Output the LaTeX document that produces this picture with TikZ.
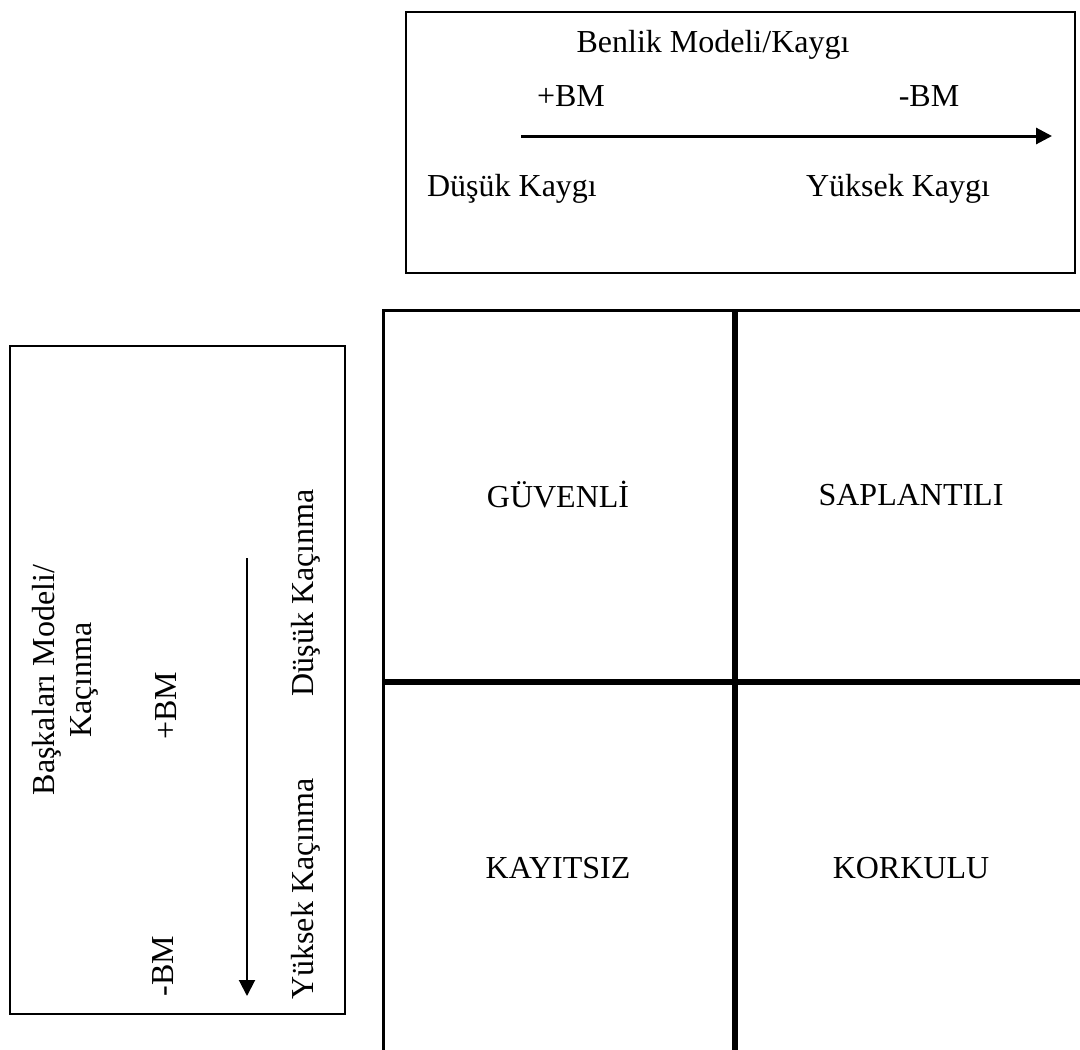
\documentclass[tikz,border=0pt]{standalone}
\usepackage{fontspec}
\setmainfont{Liberation Serif}
\usepackage{xcolor}
\usepackage{tikz}
\usetikzlibrary{arrows.meta,positioning}
\definecolor{ink}{HTML}{000000}
\tikzset{
  frame/.style={rectangle, draw=ink, line width=2pt, inner sep=0pt},
  cell/.style={rectangle, draw=ink, line width=3pt, minimum width=350pt, minimum height=370pt,
               inner sep=0pt, font=\fontsize{32}{37}\selectfont},
  lbl/.style={font=\fontsize{32}{37}\selectfont, inner sep=0pt, align=center},
  axis/.style={-{Triangle[length=16pt,width=16pt]}, draw=ink, line width=3pt},
  vaxis/.style={-{Triangle[length=16pt,width=16pt]}, draw=ink, line width=2pt},
}

\begin{document}
\begin{tikzpicture}[x=1pt,y=-1pt]
\useasboundingbox (0,0) rectangle (1080,1050);
% self model / anxiety
\node[frame, minimum width=669pt, minimum height=261pt] (kaygibox) at (740.5,142.5) {};
\node[lbl] (bmtitle) at (713,45) {Benlik Modeli/Kaygı};
\node[lbl] (bmplus) at (571,96) {+BM};
\node[lbl] (bmminus) at (929,96) {-BM};
\coordinate (kstart) at (521,136);
\coordinate (kend) at (1052,136);
\draw[axis] (kstart) -- (kend);
\node[lbl] (dkaygi) at (512,189) {Düşük Kaygı};
\node[lbl] (ykaygi) at (898,189) {Yüksek Kaygı};
% others model / avoidance
\node[frame, minimum width=335pt, minimum height=668pt] (kacinmabox) at (177.5,680) {};
\node[lbl, rotate=90] (bktitle) at (65,680) {Başkaları Modeli/\\Kaçınma};
\node[lbl, rotate=90] (bkplus) at (166,706) {+BM};
\node[lbl, rotate=90] (bkminus) at (163,966) {-BM};
\coordinate (vstart) at (247,558);
\coordinate (vend) at (247,996);
\draw[vaxis] (vstart) -- (vend);
\node[lbl, rotate=90] (dkacinma) at (306,593) {Düşük Kaçınma};
\node[lbl, rotate=90] (ykacinma) at (306,889) {Yüksek Kaçınma};
% four styles
\node[cell] (guvenli) at (558,495) {GÜVENLİ};
\node[cell, right=0pt of guvenli] (saplantili) {SAPLANTILI};
\node[cell, below=0pt of guvenli] (kayitsiz) {KAYITSIZ};
\node[cell, right=0pt of kayitsiz] (korkulu) {KORKULU};
\end{tikzpicture}
\end{document}
